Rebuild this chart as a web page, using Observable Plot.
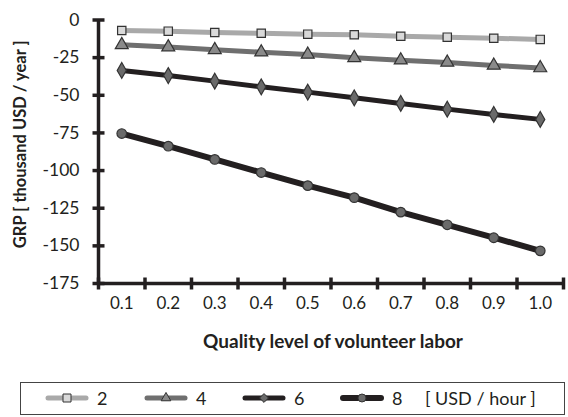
<!DOCTYPE html>
<html>
<head>
<meta charset="utf-8">
<script src="https://cdn.jsdelivr.net/npm/d3@7"></script>
<script src="https://cdn.jsdelivr.net/npm/@observablehq/plot@0.6"></script>
<style>
  html, body { margin: 0; padding: 0; background: #fff; }
  #chart { width: 568px; }
  #chart svg { display: block; font-family: Lato, "Open Sans", sans-serif; }
  .legend {
    position: relative;
    margin: 12px 0 0 20px;
    width: 545px; height: 33px;
    border: 1.5px solid #444;
    box-sizing: border-box;
    font-family: Lato, "Open Sans", sans-serif;
    font-size: 18px; color: #231f20;
  }
  .legend .item { position: absolute; top: 0; height: 30px; display: flex; align-items: center; }
  .legend svg { display: block; }
</style>
</head>
<body>
<div id="chart"></div>
<script>
// ---- data ----
const quality = [0.1, 0.2, 0.3, 0.4, 0.5, 0.6, 0.7, 0.8, 0.9, 1.0];
const wages = [2, 4, 6, 8];
const grp2 = [-7.0, -7.4, -8.3, -8.8, -9.4, -9.8, -10.8, -11.4, -12.1, -12.9];
const grp4 = [-16.5, -18.0, -19.8, -21.4, -22.9, -25.1, -26.7, -28.2, -30.2, -31.9];
const grp6 = [-33.5, -36.9, -40.6, -44.4, -47.9, -51.7, -55.4, -59.2, -62.7, -66.0];
const grp8 = [-75.4, -83.8, -92.6, -101.3, -110.0, -118.0, -127.6, -136.0, -144.6, -153.3];
const yTicks = [0, -25, -50, -75, -100, -125, -150, -175];
const xBoundaries = [0.05, 0.15, 0.25, 0.35, 0.45, 0.55, 0.65, 0.75, 0.85, 0.95, 1.05];
const yTitle = "GRP [ thousand USD / year ]";
const xTitle = "Quality level of volunteer labor";
const unitLabel = "[ USD / hour ]";

const styles = {
  2: {line: "#a9a9a9", fill: "#d9d9d9", symbol: "square", r: 4.7, w: 5, ls: 64},
  4: {line: "#6f6f6f", fill: "#8a8a8a", symbol: "triangle", r: 4.8, w: 5, ls: 40},
  6: {line: "#231f20", fill: "#6a6a6a", symbol: "diamond", r: 4.8, w: 5, ls: 50},
  8: {line: "#231f20", fill: "#6a6a6a", symbol: "circle", r: 4.8, w: 6, ls: 50}
};
const seriesValues = {2: grp2, 4: grp4, 6: grp6, 8: grp8};

const rows = wages.flatMap(w => quality.map((q, i) => ({wage: w, q, v: seriesValues[w][i]})));

const vTick = {draw(ctx) { ctx.moveTo(0, -6); ctx.lineTo(0, 6); }};
const hTick = {draw(ctx) { ctx.moveTo(-6, 0); ctx.lineTo(6, 0); }};

const marks = [];
for (const w of wages) {
  const s = styles[w];
  const data = rows.filter(d => d.wage === w);
  marks.push(Plot.line(data, {x: "q", y: "v", stroke: s.line, strokeWidth: s.w, strokeLinejoin: "round"}));
}
for (const w of wages) {
  const s = styles[w];
  const data = rows.filter(d => d.wage === w);
  marks.push(Plot.dot(data, {x: "q", y: "v", symbol: s.symbol, r: s.r, fill: s.fill, stroke: "#333", strokeWidth: 1.2}));
}

const chart = Plot.plot({
  width: 568,
  height: 370,
  marginLeft: 98,
  marginRight: 5,
  marginTop: 19.5,
  marginBottom: 87,
  x: {type: "linear", domain: [0.05, 1.05]},
  y: {domain: [-175, 0]},
  marks: [
    Plot.axisY({ticks: yTicks, tickSize: 0, tickPadding: 19, tickFormat: d => String(d), fontSize: 17.5, fill: "#231f20", label: null}),
    Plot.axisX({ticks: quality, tickSize: 0, tickPadding: 13, tickFormat: d => d.toFixed(1), fontSize: 17, fill: "#231f20", label: null}),
    ...marks,
    Plot.ruleY([-175], {stroke: "#231f20", strokeWidth: 3.5}),
    Plot.ruleX([0.05], {stroke: "#231f20", strokeWidth: 3.5}),
    Plot.dot(xBoundaries, {x: d => d, y: () => -175, symbol: vTick, stroke: "#231f20", strokeWidth: 3.5}),
    Plot.dot(yTicks, {x: () => 0.05, y: d => d, symbol: hTick, stroke: "#231f20", strokeWidth: 3.5}),
    Plot.text([xTitle], {frameAnchor: "bottom", dy: 64, dx: 2, fontSize: 19, fontWeight: "bold", fill: "#231f20"}),
    Plot.text([yTitle], {frameAnchor: "left", textAnchor: "middle", dx: -78, dy: -7.5, rotate: -90, fontSize: 16.5, fontWeight: "bold", fill: "#231f20"})
  ]
});
document.getElementById("chart").appendChild(chart);

// legend
const legend = document.createElement("div");
legend.className = "legend";
const itemX = [24, 123, 221, 319];
wages.forEach((w, i) => {
  const s = styles[w];
  const item = document.createElement("div");
  item.className = "item";
  item.style.left = itemX[i] + "px";
  const sym = d3.symbol(
    {square: d3.symbolSquare, triangle: d3.symbolTriangle, diamond: d3.symbolDiamond2, circle: d3.symbolCircle}[s.symbol],
    s.ls
  )();
  item.innerHTML = `<svg width="44" height="14" viewBox="-22 -7 44 14">
      <line x1="-19" x2="19" y1="0" y2="0" stroke="${s.line}" stroke-width="${s.w}" stroke-linecap="round"/>
      <path d="${sym}" fill="${s.fill}" stroke="#333" stroke-width="1"/>
    </svg><span style="margin-left:8px">${w}</span>`;
  legend.appendChild(item);
});
const unit = document.createElement("div");
unit.className = "item";
unit.style.left = "404px";
unit.textContent = unitLabel;
legend.appendChild(unit);
document.body.appendChild(legend);
</script>
</body>
</html>
